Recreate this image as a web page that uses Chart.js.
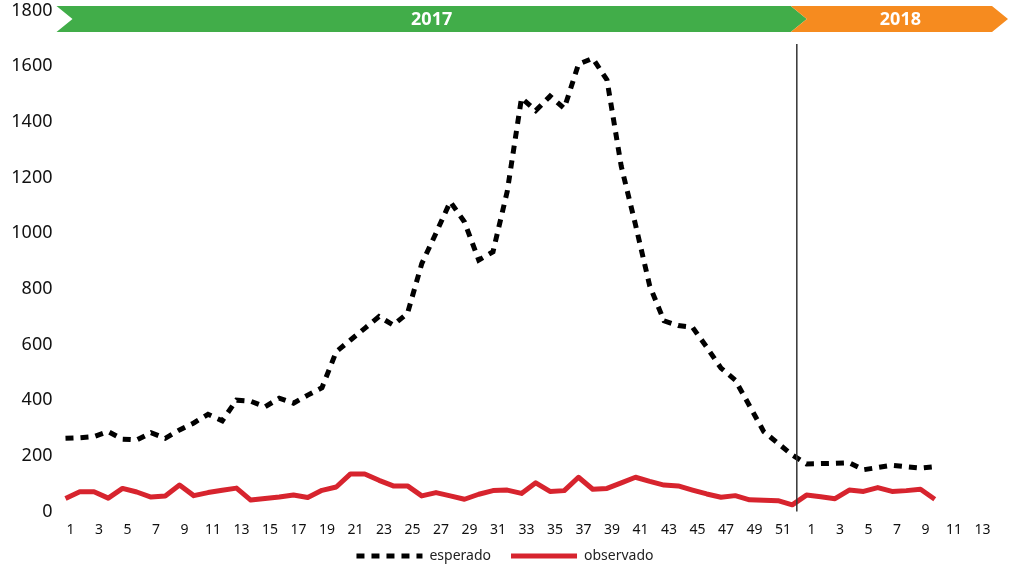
<!DOCTYPE html>
<html>
<head>
<meta charset="utf-8">
<script src="https://cdn.jsdelivr.net/npm/chart.js@4.4.0/dist/chart.umd.min.js"></script>
<style>
  html, body { margin: 0; padding: 0; background: #fff; }
</style>
</head>
<body>
<canvas id="chart" width="1010" height="569"></canvas>
<script>
const FONT = '"Noto Sans", "Open Sans", sans-serif';

// --- Data ---
const weeks2017 = [1,2,3,4,5,6,7,8,9,10,11,12,13,14,15,16,17,18,19,20,21,22,23,24,25,26,
                   27,28,29,30,31,32,33,34,35,36,37,38,39,40,41,42,43,44,45,46,47,48,49,50,51,52];
const weeks2018 = [1,2,3,4,5,6,7,8,9,10,11,12,13];
const weekLabels = weeks2017.concat(weeks2018);
const yearLabels = ['2017', '2018'];
const yTicks = [0, 200, 400, 600, 800, 1000, 1200, 1400, 1600, 1800];

const esperado2017 = [263, 265, 269, 287, 260, 257, 283, 263, 293, 318, 349, 326, 400, 396, 376, 407,
                      389, 418, 445, 574, 616, 658, 700, 670, 712, 890, 1000, 1113, 1040, 903, 933, 1150,
                      1485, 1440, 1492, 1448, 1607, 1628, 1550, 1240, 1030, 810, 685, 668, 662, 590, 515,
                      472, 380, 287, 245, 203];
const esperado2018 = [171, 172, 173, 175, 150, 158, 166, 161, 156, 161, null, null, null];

const observado2017 = [47, 71, 71, 48, 83, 70, 52, 56, 95, 57, 68, 76, 84, 41, 47, 52, 59, 50, 76, 88,
                       135, 135, 112, 92, 92, 56, 68, 56, 44, 62, 75, 77, 65, 103, 72, 75, 123, 80, 83,
                       103, 123, 108, 95, 92, 77, 63, 51, 57, 42, 40, 39, 24];
const observado2018 = [59, 53, 46, 77, 72, 86, 72, 75, 80, 44, null, null, null];

const esperado = esperado2017.concat(esperado2018);
const observado = observado2017.concat(observado2018);

// last 2017 week index, used for the year separator
const LAST_2017 = weeks2017.length - 1;

// --- Year banner + separator line ---
const yearBanner = {
    id: 'yearBanner',
    afterDraw(chart) {
        const { ctx, chartArea, scales: { x } } = chart;
        const a = x.getPixelForValue(LAST_2017);
        const b = x.getPixelForValue(LAST_2017 + 1);
        const sep = a + (b - a) * 0.32;

        ctx.save();
        ctx.strokeStyle = '#333';
        ctx.lineWidth = 1.5;
        ctx.beginPath();
        ctx.moveTo(sep, 44);
        ctx.lineTo(sep, chartArea.bottom);
        ctx.stroke();

        const top = 6, bot = 32, mid = (top + bot) / 2, tip = 16;
        const gL = chartArea.left - 9;
        const gR = sep - 6;
        const oR = chart.width - 18;

        ctx.fillStyle = '#41ad49';
        ctx.beginPath();
        ctx.moveTo(gL, top); ctx.lineTo(gR, top); ctx.lineTo(gR + tip, mid);
        ctx.lineTo(gR, bot); ctx.lineTo(gL, bot); ctx.lineTo(gL + tip, mid);
        ctx.closePath(); ctx.fill();

        ctx.fillStyle = '#f68b1f';
        ctx.beginPath();
        ctx.moveTo(gR, top); ctx.lineTo(oR, top); ctx.lineTo(oR + tip, mid);
        ctx.lineTo(oR, bot); ctx.lineTo(gR, bot); ctx.lineTo(gR + tip, mid);
        ctx.closePath(); ctx.fill();

        ctx.fillStyle = '#fff';
        ctx.font = 'bold 18px ' + FONT;
        ctx.textAlign = 'center';
        ctx.textBaseline = 'middle';
        ctx.fillText(yearLabels[0], (gL + gR + tip) / 2, mid + 1);
        ctx.fillText(yearLabels[1], (gR + oR + tip) / 2 + 1, mid + 1);
        ctx.restore();
    }
};

// legend samples: dashed line for esperado, solid for observado
function legendLabels(chart) {
    const items = Chart.defaults.plugins.legend.labels.generateLabels(chart);
    items.forEach((it) => {
        const ds = chart.data.datasets[it.datasetIndex];
        it.pointStyle = 'line';
        it.lineWidth = ds.borderWidth;
        it.strokeStyle = ds.borderColor;
        it.lineDash = ds.borderDash || [];
        it.lineCap = 'butt';
    });
    return items;
}

const ctx = document.getElementById('chart').getContext('2d');
const chart = new Chart(ctx, {
    type: 'line',
    data: {
        labels: weekLabels,
        datasets: [
            {
                label: 'esperado',
                data: esperado,
                borderColor: '#000',
                backgroundColor: '#000',
                borderWidth: 5,
                borderDash: [8, 7],
                borderCapStyle: 'butt',
                tension: 0,
                fill: false,
                pointRadius: 0
            },
            {
                label: 'observado',
                data: observado,
                borderColor: '#d7242e',
                backgroundColor: '#d7242e',
                borderWidth: 5,
                borderJoinStyle: 'round',
                tension: 0,
                fill: false,
                pointRadius: 0
            }
        ]
    },
    options: {
        responsive: false,
        animation: false,
        devicePixelRatio: 1,
        layout: { padding: { top: 0, right: 0, left: 0, bottom: -4 } },
        plugins: {
            tooltip: { enabled: false },
            legend: {
                position: 'bottom',
                labels: {
                    usePointStyle: true,
                    pointStyleWidth: 66,
                    padding: 20,
                    color: '#222',
                    font: { family: FONT, size: 14 },
                    generateLabels: legendLabels
                }
            }
        },
        scales: {
            x: {
                offset: false,
                grid: { display: false, drawTicks: false },
                border: { display: false },
                afterFit: (s) => {
                    s.height = 17.5;
                    // labels reach into the legend's top padding, so don't clip them to the axis box
                    s._computeLabelArea = () => null;
                },
                ticks: {
                    autoSkip: false,
                    maxRotation: 0,
                    padding: 10,
                    labelOffset: 5,
                    color: '#111',
                    font: { family: FONT, size: 14 },
                    callback: (val, idx) => (weekLabels[idx] % 2 === 1 ? String(weekLabels[idx]) : '')
                }
            },
            y: {
                min: 0,
                max: 1800,
                afterBuildTicks: (s) => { s.ticks = yTicks.map(v => ({ value: v })); },
                afterFit: (s) => { s.width = 65.5; s.paddingTop = 10.4; s.paddingBottom = 10; },
                grid: { display: false, drawTicks: false },
                border: { display: false },
                ticks: {
                    padding: 13,
                    color: '#111',
                    font: { family: FONT, size: 18 },
                    callback: (v) => String(v)
                }
            },
            // empty right-hand strip so the plot ends where the reference does
            yRight: {
                position: 'right',
                display: true,
                grid: { display: false, drawTicks: false },
                border: { display: false },
                ticks: { display: false },
                afterFit: (s) => { s.width = 32.5; }
            }
        }
    },
    plugins: [yearBanner]
});
</script>
</body>
</html>
